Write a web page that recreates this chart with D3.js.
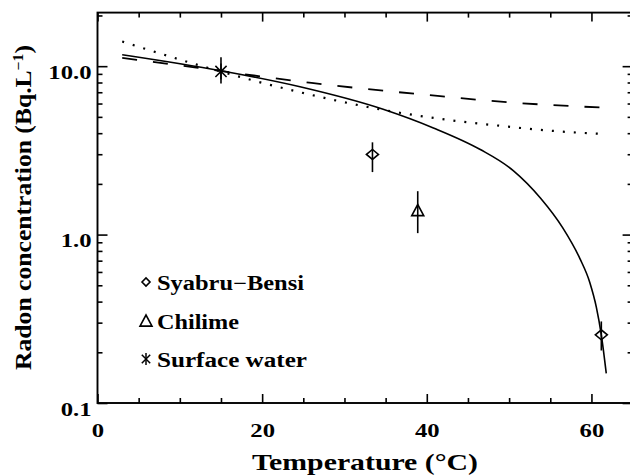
<!DOCTYPE html>
<html><head><meta charset="utf-8">
<script src="https://cdn.jsdelivr.net/npm/d3@7"></script>
<style>
body{margin:0;background:#fff;}
svg{display:block;}
text{font-family:"Liberation Serif","DejaVu Serif",serif;font-weight:bold;fill:#000;}
</style></head><body>
<svg id="c" width="630" height="476"></svg>
<script>
// ---- data ----
const xMajorTicks = [0, 20, 40, 60];
const xMinorTicks = [5, 10, 15, 25, 30, 35, 45, 50, 55, 65];
const yMajorTicks = [0.1, 1, 10];
const yMajorLabels = ["0.1", "1.0", "10.0"];
const yMinorTicks = [0.2,0.3,0.4,0.5,0.6,0.7,0.8,0.9,2,3,4,5,6,7,8,9,20];

const solidT = [3, 15, 24.6, 34.7, 40.8, 46.5, 50.5, 53.8, 56.5, 58.6, 59.8, 60.6, 61.2, 61.8];
const solidC = [11.7, 9.4, 7.55, 5.55, 4.3, 3.2, 2.4, 1.65, 1.1, 0.72, 0.52, 0.37, 0.254, 0.15];
const dashedT = [3, 12, 26, 40, 50, 61.8];
const dashedC = [11.2, 9.8, 7.95, 6.75, 6.1, 5.66];
const dottedT = [3, 12.4, 24.6, 34.7, 44, 49, 53, 57, 61.8];
const dottedC = [14.0, 10.1, 7.0, 5.5, 4.7, 4.42, 4.22, 4.07, 3.95];

const syabruT = [33.4, 61.2];
const syabruC = [2.99, 0.254];
const syabruLo = [2.35, 0.205];
const syabruHi = [3.53, 0.305];
const chilimeT = [38.9];
const chilimeC = [1.39];
const chilimeLo = [1.02];
const chilimeHi = [1.81];
const surfaceT = [15];
const surfaceC = [9.3];
const surfaceLo = [7.9];
const surfaceHi = [11.3];

const legendLabels = ["Syabru\u2212Bensi", "Chilime", "Surface water"];

// ---- layout ----
const L = 97.5, R = 632.6, T = 12.6, B = 403;
const x = d3.scaleLinear().domain([0, 65]).range([L, R]);
const y = d3.scaleLog().domain([0.1, 20.8]).range([B, T]);
const svg = d3.select("#c");
const AX = 1.9;

function stretch(sel, f){
  sel.each(function(){
    const w = this.getComputedTextLength();
    if (w > 0) d3.select(this).attr("textLength", w*f).attr("lengthAdjust","spacingAndGlyphs");
  });
}
function stretchTo(sel, target){
  sel.each(function(){
    d3.select(this).attr("textLength", target).attr("lengthAdjust","spacingAndGlyphs");
  });
}
function styleAxis(g){
  g.select(".domain").remove();
  g.selectAll("line").attr("stroke","#000").attr("stroke-width",1.6);
  g.selectAll("text").attr("font-size",19).attr("font-family",null);
}

// bottom
const xb = svg.append("g").attr("transform",`translate(0,${B})`)
  .call(d3.axisBottom(x).tickValues(xMajorTicks).tickFormat(d3.format("d")).tickSize(-9).tickPadding(21))
  .call(styleAxis);
xb.selectAll("text").attr("dy",null).attr("y",34);
stretch(xb.selectAll("text"), 1.3);
svg.append("g").attr("transform",`translate(0,${B})`)
  .call(d3.axisBottom(x).tickValues(xMinorTicks).tickFormat("").tickSize(-5))
  .call(styleAxis);
// top
svg.append("g").attr("transform",`translate(0,${T})`)
  .call(d3.axisTop(x).tickValues(xMajorTicks).tickFormat("").tickSize(-9))
  .call(styleAxis);
svg.append("g").attr("transform",`translate(0,${T})`)
  .call(d3.axisTop(x).tickValues(xMinorTicks).tickFormat("").tickSize(-5))
  .call(styleAxis);
// left
const yl = svg.append("g").attr("transform",`translate(${L},0)`)
  .call(d3.axisLeft(y).tickValues(yMajorTicks).tickFormat((d,i)=>yMajorLabels[i]).tickSize(-10).tickPadding(6))
  .call(styleAxis);
yl.selectAll("text").attr("dy",12);
stretch(yl.selectAll("text"), 1.3);
svg.append("g").attr("transform",`translate(${L},0)`)
  .call(d3.axisLeft(y).tickValues(yMinorTicks).tickFormat("").tickSize(-5))
  .call(styleAxis);
// right
svg.append("g").attr("transform",`translate(${R},0)`)
  .call(d3.axisRight(y).tickValues(yMajorTicks).tickFormat("").tickSize(-10))
  .call(styleAxis);
svg.append("g").attr("transform",`translate(${R},0)`)
  .call(d3.axisRight(y).tickValues(yMinorTicks).tickFormat("").tickSize(-5))
  .call(styleAxis);

// frame
svg.append("rect").attr("x",L).attr("y",T).attr("width",R-L).attr("height",B-T)
  .attr("fill","none").attr("stroke","#000").attr("stroke-width",AX);

// curves
const line = d3.line().x(d=>x(d[0])).y(d=>y(d[1])).curve(d3.curveMonotoneX);
svg.append("path").datum(solidT.map((t,i)=>[t,solidC[i]])).attr("d",line)
  .attr("fill","none").attr("stroke","#000").attr("stroke-width",1.6);
svg.append("path").datum(dashedT.map((t,i)=>[t,dashedC[i]])).attr("d",line)
  .attr("fill","none").attr("stroke","#000").attr("stroke-width",1.8).attr("stroke-dasharray","15,16");
svg.append("path").datum(dottedT.map((t,i)=>[t,dottedC[i]])).attr("d",line)
  .attr("fill","none").attr("stroke","#000").attr("stroke-width",2.2).attr("stroke-dasharray","2,9");

// error bars
function errbars(ts, lo, hi){
  svg.append("g").selectAll("line").data(ts).join("line")
    .attr("x1",d=>x(d)).attr("x2",d=>x(d))
    .attr("y1",(d,i)=>y(lo[i])).attr("y2",(d,i)=>y(hi[i]))
    .attr("stroke","#000").attr("stroke-width",1.6);
}
errbars(syabruT, syabruLo, syabruHi);
errbars(chilimeT, chilimeLo, chilimeHi);
errbars(surfaceT, surfaceLo, surfaceHi);

// symbols
function diamond(g, cx, cy, w, h){
  g.append("path").attr("d",`M${cx-w},${cy}L${cx},${cy-h}L${cx+w},${cy}L${cx},${cy+h}Z`)
   .attr("fill","none").attr("stroke","#000").attr("stroke-width",1.6);
}
function triangle(g, cx, cy, s){
  g.append("path").attr("d",`M${cx-s},${cy+s*0.85}L${cx+s},${cy+s*0.85}L${cx},${cy-s}Z`)
   .attr("fill","none").attr("stroke","#000").attr("stroke-width",1.6);
}
function asterisk(g, cx, cy, s){
  const a = 0.7, b = 0.7;
  const p = [[0,-s,0,s],[-s*a,-s*b,s*a,s*b],[-s*a,s*b,s*a,-s*b]];
  p.forEach(q=>g.append("line").attr("x1",cx+q[0]).attr("y1",cy+q[1]).attr("x2",cx+q[2]).attr("y2",cy+q[3])
    .attr("stroke","#000").attr("stroke-width",1.5));
}
const gs = svg.append("g");
syabruT.forEach((t,i)=>diamond(gs, x(t), y(syabruC[i]), 6, 5));
chilimeT.forEach((t,i)=>triangle(gs, x(t), y(chilimeC[i]), 6));
surfaceT.forEach((t,i)=>asterisk(gs, x(t), y(surfaceC[i]), 8));

// legend
const lg = svg.append("g");
const ly = [282, 321, 359];
const lw = [147, 82, 150];
diamond(lg, 146, ly[0], 4, 4);
triangle(lg, 146, ly[1], 6);
asterisk(lg, 146, ly[2], 6);
const lt = lg.selectAll("text").data(legendLabels).join("text")
  .attr("x",157).attr("y",(d,i)=>ly[i]+8).attr("font-size",20).text(d=>d);
lt.each(function(d,i){ d3.select(this).attr("textLength", lw[i]).attr("lengthAdjust","spacingAndGlyphs"); });

// axis titles
svg.append("text").attr("x",365).attr("y",470).attr("text-anchor","middle")
  .attr("font-size",24).attr("textLength",226).attr("lengthAdjust","spacingAndGlyphs")
  .text("Temperature (\u00B0C)");
const yt = svg.append("text").attr("text-anchor","middle").attr("font-size",23);
yt.append("tspan").text("Radon concentration (Bq.L");
yt.append("tspan").attr("font-size",14).attr("dy","-8").text("\u22121");
yt.append("tspan").attr("dy","8").text(")");
const ytw = yt.node().getComputedTextLength();
const sx = 325 / ytw;
yt.attr("transform",`translate(31,207.5) rotate(-90) scale(${sx},1)`);
</script>
</body></html>
